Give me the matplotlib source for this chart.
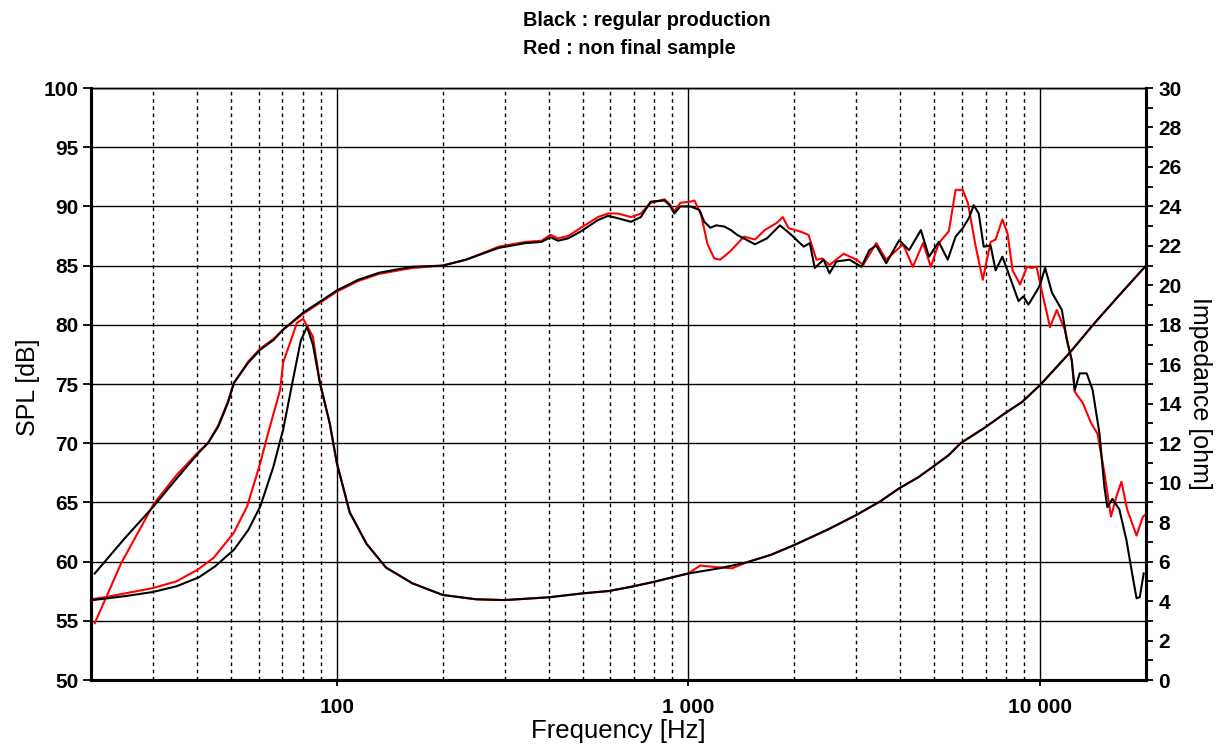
#!/usr/bin/env python3
import numpy as np
import matplotlib
matplotlib.use("Agg")
import matplotlib.pyplot as plt
from matplotlib.ticker import FixedLocator, NullFormatter, MultipleLocator

# SPL, black = regular production
spl_black_f = [20.5, 25, 30, 35, 40.5, 43, 46, 49, 51, 56, 60.6, 66, 70.4, 80, 90, 100, 115, 132, 150, 164,
               200, 233, 289, 344, 382, 405, 426, 455, 495, 553, 591, 630, 686, 732, 781, 855, 884, 912,
               948, 1013, 1074, 1109, 1154, 1200, 1264, 1320, 1375, 1545, 1671, 1820, 1943, 2127, 2213,
               2286, 2422, 2518, 2636, 2870, 3104, 3268, 3420, 3650, 3975, 4240, 4580, 4830, 5150, 5460,
               5750, 6020, 6270, 6475, 6690, 6910, 7230, 7470, 7810, 8130, 8680, 8960, 9260, 9800, 10000,
               10330, 10810, 11530, 11910, 12300, 12540, 12960, 13560, 14100, 14750, 15230, 15530, 16050,
               16800, 17600, 18190, 18800, 19200, 19700]
spl_black = [59.0, 62.0, 64.6, 67.0, 69.2, 70.0, 71.4, 73.4, 75.1, 76.8, 77.9, 78.7, 79.6, 81.0, 82.0, 82.9,
             83.8, 84.4, 84.7, 84.9, 85.0, 85.5, 86.5, 86.9, 87.0, 87.4, 87.1, 87.3, 87.9, 88.85, 89.2, 89.0,
             88.7, 89.1, 90.4, 90.5, 90.1, 89.4, 90.0, 90.0, 89.7, 88.7, 88.2, 88.4, 88.3, 88.0, 87.6, 86.8,
             87.3, 88.4, 87.7, 86.6, 86.9, 84.8, 85.5, 84.35, 85.35, 85.5, 84.9, 86.3, 86.7, 85.2, 87.15,
             86.3, 88.0, 85.75, 87.0, 85.5, 87.45, 88.15, 89.0, 90.1, 89.4, 86.6, 86.7, 84.6, 85.75, 84.35,
             82.0, 82.4, 81.7, 82.9, 83.4, 84.8, 82.7, 81.25, 78.7, 77.0, 74.5, 75.9, 75.9, 74.5, 70.8,
             66.3, 64.6, 65.3, 64.4, 61.8, 59.3, 56.9, 57.0, 59.0]

# SPL, red = non final sample
spl_red_f = [20.5, 24.4, 30.2, 35, 40.5, 43, 46, 49, 51, 56, 60.6, 66, 70.4, 80, 90, 100, 115, 132, 150, 164,
             200, 233, 289, 344, 382, 405, 426, 455, 495, 553, 591, 630, 686, 732, 781, 855, 884, 912, 948,
             1013, 1040, 1086, 1133, 1184, 1231, 1314, 1439, 1545, 1648, 1782, 1854, 1927, 2070, 2194, 2311,
             2400, 2518, 2762, 3005, 3140, 3420, 3650, 4077, 4345, 4645, 4890, 5150, 5500, 5750, 6020, 6230,
             6560, 6870, 7230, 7470, 7810, 8080, 8350, 8770, 9170, 9450, 9770, 10100, 10670, 11150, 11750,
             12300, 12540, 13220, 13960, 14560, 15230, 15900, 16480, 17030, 17680, 18800, 19600, 20000]
spl_red = [54.8, 59.9, 64.9, 67.3, 69.3, 70.0, 71.5, 73.5, 75.1, 76.9, 78.0, 78.8, 79.6, 80.9, 81.9, 82.8,
           83.7, 84.3, 84.6, 84.8, 85.0, 85.5, 86.6, 87.0, 87.1, 87.6, 87.3, 87.5, 88.2, 89.1, 89.4, 89.4,
           89.1, 89.4, 90.3, 90.6, 90.2, 89.6, 90.3, 90.4, 90.5, 89.3, 86.8, 85.6, 85.5, 86.2, 87.45, 87.2,
           88.0, 88.6, 89.1, 88.15, 87.9, 87.6, 85.5, 85.6, 85.05, 86.0, 85.5, 85.05, 86.9, 85.5, 86.8, 84.9,
           86.9, 84.9, 86.9, 87.9, 91.4, 91.4, 90.3, 86.6, 83.8, 87.0, 87.2, 88.9, 87.7, 84.6, 83.4, 84.9,
           84.8, 84.9, 82.9, 79.8, 81.25, 79.6, 77.0, 74.35, 73.4, 71.7, 70.8, 67.5, 63.8, 65.5, 66.75, 64.4,
           62.2, 63.8, 64.0]

# impedance (ohm)
imp_black_f = [20.2, 25, 30, 35, 40.5, 45, 51, 56, 60.6, 66, 70.4, 75, 79, 82.3, 85.5, 89.5, 95.5, 100, 108.8,
               121.5, 138, 164, 200, 249, 300, 400, 500, 594, 690, 800, 898, 1000, 1224, 1457, 1714, 2000,
               2500, 3000, 3500, 3980, 4500, 4950, 5500, 5940, 6920, 7920, 8900, 10000, 12160, 14300, 16600,
               20000]
imp_black = [4.05, 4.25, 4.46, 4.75, 5.2, 5.75, 6.6, 7.6, 8.8, 10.8, 12.7, 15.2, 17.2, 17.9, 17.0, 15.05, 13.0,
             11.0, 8.5, 6.9, 5.7, 4.9, 4.31, 4.09, 4.05, 4.19, 4.39, 4.51, 4.73, 4.98, 5.2, 5.4, 5.66, 5.95,
             6.34, 6.84, 7.64, 8.36, 9.04, 9.72, 10.27, 10.8, 11.4, 12.0, 12.76, 13.5, 14.1, 14.95, 16.6, 18.1,
             19.4, 21.0]

imp_red_f = [20.2, 22, 30, 35, 40.3, 44.7, 50.9, 55.6, 60.6, 63.3, 69, 70.4, 74, 77, 80.2, 82, 85.5, 89.5, 95.5,
             100, 108.8, 121.5, 138, 164, 200, 249, 300, 400, 500, 594, 690, 800, 898, 1000, 1080, 1200, 1330,
             1457, 1714, 2000, 2500, 3000, 3500, 3980, 4500, 4950, 5500, 5940, 6920, 7920, 8900, 10000, 12160,
             14300, 16600, 20000]
imp_red = [4.1, 4.2, 4.66, 5.0, 5.6, 6.2, 7.45, 8.8, 11.0, 12.3, 14.7, 16.1, 17.2, 18.1, 18.3, 18.0, 17.4, 15.1,
           13.0, 11.0, 8.5, 6.9, 5.7, 4.9, 4.31, 4.09, 4.05, 4.19, 4.39, 4.51, 4.73, 4.98, 5.2, 5.4, 5.8, 5.72,
           5.66, 5.95, 6.34, 6.84, 7.64, 8.36, 9.04, 9.72, 10.27, 10.8, 11.4, 12.0, 12.76, 13.5, 14.1, 14.95,
           16.6, 18.1, 19.4, 21.0]

FONT = "Liberation Sans"
plt.rcParams["font.family"] = [FONT, "DejaVu Sans"]

fig = plt.figure(figsize=(12.19, 7.47), dpi=100)
ax = fig.add_axes([91 / 1219, 1 - 680 / 747, (1146 - 91) / 1219, (680 - 88) / 747])

ax.set_xscale("log")
ax.set_xlim(20, 20000)
ax.set_ylim(50, 100)

# grid: solid decades / levels, dashed minor frequencies
ax.xaxis.set_major_locator(FixedLocator([100, 1000, 10000]))
ax.set_xticklabels(["100", "1 000", "10 000"])
minor_f = [m * d for d in (10, 100, 1000) for m in range(2, 10) if 20 < m * d < 20000]
ax.xaxis.set_minor_locator(FixedLocator(minor_f))
ax.xaxis.set_minor_formatter(NullFormatter())
ax.yaxis.set_major_locator(MultipleLocator(5))
ax.grid(True, which="major", axis="both", color="black", lw=1.0)
ax.grid(True, which="minor", axis="x", color="black", lw=1.0, linestyle=(0, (2.6, 2.6)))
ax.set_axisbelow(True)

ax.plot(spl_red_f, spl_red, color="#ff0000", lw=1.5)
ax.plot(spl_black_f, spl_black, color="black", lw=1.5)

ax.tick_params(axis="y", which="major", direction="out", length=6, width=1.3, pad=3,
               labelsize=15)
ax.tick_params(axis="x", which="major", direction="out", length=4, width=1.3, pad=9,
               labelsize=15)
ax.tick_params(axis="x", which="minor", length=0)
for lab in ax.get_xticklabels() + ax.get_yticklabels():
    lab.set_fontweight("bold")

ax2 = ax.twinx()
ax2.set_ylim(0, 30)
ax2.plot(imp_red_f, imp_red, color="#ff0000", lw=1.5)
ax2.plot(imp_black_f, imp_black, color="black", lw=1.5)
ax2.yaxis.set_major_locator(MultipleLocator(2))
ax2.yaxis.set_minor_locator(MultipleLocator(1))
ax2.tick_params(axis="y", which="both", direction="out", length=5, width=1.3, pad=4, labelsize=15)
for lab in ax2.get_yticklabels():
    lab.set_fontweight("bold")

for a in (ax, ax2):
    a.spines["left"].set_linewidth(2.2)
    a.spines["bottom"].set_linewidth(2.2)
    a.spines["right"].set_linewidth(2.2)
    a.spines["top"].set_linewidth(1.0)

# labels
fig.text(28 / 1219, 1 - 387 / 747, "SPL [dB]", rotation=90, ha="center", va="center", fontsize=18)
fig.text(1200 / 1219, 1 - 393 / 747, "Impedance [ohm]", rotation=270, ha="center", va="center",
         fontsize=18)
fig.text(618 / 1219, 1 - 731 / 747, "Frequency [Hz]", ha="center", va="center", fontsize=18.5)

fig.text(523 / 1219, 1 - 21 / 747, "Black : regular production", ha="left", va="center",
         fontsize=14.3, fontweight="bold")
fig.text(523 / 1219, 1 - 48 / 747, "Red : non final sample", ha="left", va="center",
         fontsize=14.3, fontweight="bold")

fig.savefig("out.png", dpi=100)
